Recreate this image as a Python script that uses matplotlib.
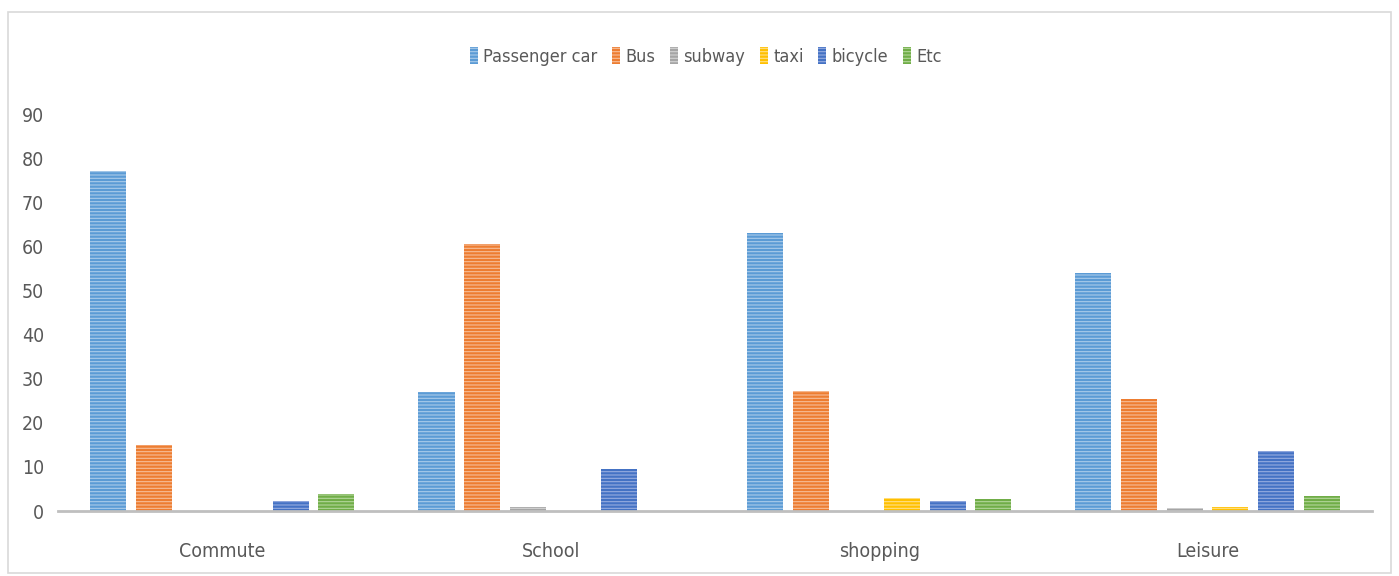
import numpy as np
import matplotlib
matplotlib.use("Agg")
import matplotlib.pyplot as plt
from matplotlib.patches import Rectangle

categories = ["Commute", "School", "shopping", "Leisure"]
modes = ["Passenger car", "Bus", "subway", "taxi", "bicycle", "Etc"]

passenger_car = [77, 27, 63, 54]
bus = [15, 60.5, 27.3, 25.4]
subway = [0, 0.8, 0, 0.7]
taxi = [0, 0, 2.9, 0.8]
bicycle = [2.2, 9.5, 2.3, 13.6]
etc = [3.8, 0, 2.8, 3.4]

values = [passenger_car, bus, subway, taxi, bicycle, etc]
colors = ["#5B9BD5", "#ED7D31", "#A5A5A5", "#FFC000", "#4472C4", "#70AD47"]
stripes = ["#A9CBEA", "#F6BD98", "#D3D3D3", "#FFE08A", "#95ACDF", "#B3D69A"]

plt.rcParams['font.family'] = ['DejaVu Sans']
plt.rcParams['font.stretch'] = 'condensed'
plt.rcParams['hatch.linewidth'] = 0.8

fig = plt.figure(figsize=(13.99, 5.76), dpi=100)
ax = fig.add_axes([0.0415, 0.1128, 0.939, 0.689])

x = np.arange(len(categories))
pitch = 0.139
width = 0.110
for i, (vals, c, s) in enumerate(zip(values, colors, stripes)):
    offs = (i - 2.5) * pitch
    ax.bar(x + offs, vals, width, color=c, edgecolor=s, linewidth=0,
           hatch="-----", label=modes[i])

ax.set_xlim(-0.5, 3.5)
ax.set_ylim(0, 90)
ax.set_yticks(range(0, 91, 10))
ax.set_xticks(x)
ax.set_xticklabels(categories)
ax.tick_params(length=0, labelsize=14, colors="#595959")
ax.tick_params(axis="x", pad=22)
ax.tick_params(axis="y", pad=10)
for side in ["top", "right", "left"]:
    ax.spines[side].set_visible(False)
ax.spines["bottom"].set_color("#BFBFBF")
ax.spines["bottom"].set_linewidth(2)

leg = ax.legend(loc="center", bbox_to_anchor=(0.493, 1.145), ncol=6, frameon=False,
                fontsize=13, handlelength=0.45, handleheight=1.0, handletextpad=0.3,
                columnspacing=0.8, labelcolor="#595959")

fig.patches.append(Rectangle((0.006, 0.005), 0.988, 0.975, transform=fig.transFigure,
                             fill=False, edgecolor="#D9D9D9", linewidth=1.2))

fig.savefig("out.png", dpi=100)
